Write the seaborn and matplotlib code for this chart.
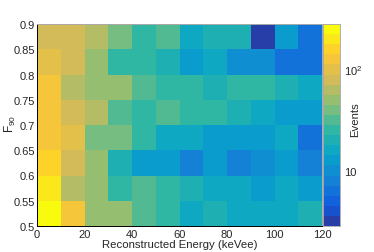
import numpy as np
import pandas as pd
import matplotlib
matplotlib.use("Agg")
import matplotlib.pyplot as plt
import seaborn as sns
from matplotlib.colors import LinearSegmentedColormap, ListedColormap, LogNorm
from matplotlib.ticker import MultipleLocator, FuncFormatter, LogLocator, NullFormatter

# bin edges
energy_edges = [0, 10, 20, 30, 40, 50, 60, 70, 80, 90, 100, 110, 120]
f90_edges = [0.5, 0.55, 0.6, 0.65, 0.7, 0.75, 0.8, 0.85, 0.9]

# event counts per F90 row (bottom to top), one value per energy bin
row_050 = [251, 126, 51, 53, 32, 25, 16, 20, 16, 15, 16, 21]
row_055 = [199, 64, 50, 26, 33, 25, 20, 16, 17, 13, 16, 13]
row_060 = [159, 80, 51, 20, 13, 13, 8, 13, 8, 10, 13, 8]
row_065 = [126, 100, 40, 41, 25, 16, 16, 13, 13, 13, 16, 7]
row_070 = [126, 80, 64, 32, 25, 32, 25, 25, 20, 16, 13, 13]
row_075 = [126, 64, 51, 50, 32, 25, 25, 20, 25, 26, 20, 16]
row_080 = [100, 80, 51, 25, 25, 20, 13, 16, 10, 10, 7, 7]
row_085 = [80, 80, 64, 40, 25, 32, 16, 20, 20, 3, 13, 7]

counts = pd.DataFrame(
    [row_050, row_055, row_060, row_065, row_070, row_075, row_080, row_085],
    index=f90_edges[:-1], columns=energy_edges[:-1])

# ROOT "bird" palette, cut into 20 contour levels
stops = [0.0, 0.125, 0.25, 0.375, 0.5, 0.625, 0.75, 0.875, 1.0]
red = [0.2082, 0.0592, 0.0780, 0.0232, 0.1802, 0.5301, 0.8186, 0.9956, 0.9764]
green = [0.1664, 0.3599, 0.5041, 0.6419, 0.7178, 0.7492, 0.7328, 0.7862, 0.9832]
blue = [0.5293, 0.8684, 0.8385, 0.7914, 0.6425, 0.4662, 0.3499, 0.1968, 0.0539]
bird = LinearSegmentedColormap.from_list(
    "bird", list(zip(stops, zip(red, green, blue))))
levels = ListedColormap([bird((i + 1) / 20) for i in range(20)])

sns.set_style("white")
plt.rcParams["font.family"] = ["Liberation Sans", "DejaVu Sans"]
plt.rcParams["mathtext.default"] = "regular"

fig = plt.figure(figsize=(3.74, 2.53), dpi=100)
ax = fig.add_axes([37 / 374, 26 / 253, 285 / 374, 202 / 253])
cax = fig.add_axes([323 / 374, 26 / 253, 17 / 374, 202 / 253])

sns.heatmap(counts, ax=ax, cbar_ax=cax, cmap=levels,
            norm=LogNorm(vmin=2.9, vmax=280),
            xticklabels=False, yticklabels=False)
ax.set_ylim(0, len(f90_edges) - 1)
ax.set_xlim(0, len(energy_edges) - 1)

# heatmap cells are unit wide: convert to physical units for ticks
dx = energy_edges[1] - energy_edges[0]
dy = 0.05
ax.xaxis.set_major_locator(MultipleLocator(20 / dx))
ax.xaxis.set_minor_locator(MultipleLocator(5 / dx))
ax.yaxis.set_major_locator(MultipleLocator(1))
ax.yaxis.set_minor_locator(MultipleLocator(0.01 / dy))
ax.xaxis.set_major_formatter(FuncFormatter(lambda p, _: f"{energy_edges[0] + p * dx:g}"))
ax.yaxis.set_major_formatter(FuncFormatter(lambda p, _: f"{round(f90_edges[0] + p * dy, 2):g}"))

ax.tick_params(axis="both", which="both", direction="in", labelsize=8,
               bottom=True, left=True, top=False, right=False, color="black", width=0.6)
ax.tick_params(axis="x", which="major", length=4.8, pad=2)
ax.tick_params(axis="x", which="minor", length=2.4)
ax.tick_params(axis="y", which="major", length=6.5, pad=1.5)
ax.tick_params(axis="y", which="minor", length=3.2)

for side, sp in ax.spines.items():
    sp.set_visible(True)
    sp.set_linewidth(0.7)
    sp.set_color("black" if side in ("left", "bottom") else "#aaaaaa")

ax.set_xlabel("Reconstructed Energy (keVee)", fontsize=8.2, labelpad=0)
ax.set_ylabel("")
fig.text(10 / 374, 1 - 124 / 253, "F$_{90}$", rotation=90,
         ha="center", va="center", fontsize=8.5)

# colour bar
cax.yaxis.set_major_locator(plt.FixedLocator([10, 100]))
cax.yaxis.set_major_formatter(FuncFormatter(lambda v, _: {10: "10", 100: "10$^2$"}.get(round(v), "")))
cax.yaxis.set_minor_locator(LogLocator(base=10, subs=range(2, 10)))
cax.yaxis.set_minor_formatter(NullFormatter())
cax.tick_params(which="both", direction="in", labelsize=8, width=0.6, color="#333333")
cax.tick_params(which="major", length=4, pad=3)
cax.tick_params(which="minor", length=2)
for sp in cax.spines.values():
    sp.set_visible(True)
    sp.set_linewidth(0.5)
    sp.set_color("#aaaaaa")
fig.text(355 / 374, 1 - 120 / 253, "Events", rotation=90,
         ha="center", va="center", fontsize=8.2)

fig.savefig("out.png", dpi=100)
plt.close(fig)
